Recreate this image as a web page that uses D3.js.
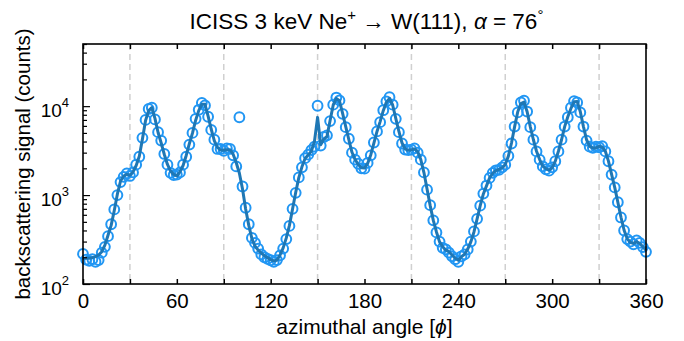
<!DOCTYPE html>
<html>
<head>
<meta charset="utf-8">
<script src="https://cdn.jsdelivr.net/npm/d3@7"></script>
<style>
  body { margin: 0; background: #fff; }
  svg { display: block; font-family: "Liberation Sans", Arial, sans-serif; }
</style>
</head>
<body>
<div id="chart"></div>
<script>
// azimuthal angles (deg) of the measured points and of the fit curve
const angles = [
  0, 2, 4, 6, 8, 10, 12, 14, 16, 18, 20, 22, 24, 26, 28, 30, 32, 34, 36, 38,
  40, 42, 44, 46, 48, 50, 52, 54, 56, 58, 60, 62, 64, 66, 68, 70, 72, 74, 76, 78,
  80, 82, 84, 86, 88, 90, 92, 94, 96, 98, 100, 102, 104, 106, 108, 110, 112, 114, 116, 118,
  120, 122, 124, 126, 128, 130, 132, 134, 136, 138, 140, 142, 144, 146, 148, 150, 152, 154, 156, 158,
  160, 162, 164, 166, 168, 170, 172, 174, 176, 178, 180, 182, 184, 186, 188, 190, 192, 194, 196, 198,
  200, 202, 204, 206, 208, 210, 212, 214, 216, 218, 220, 222, 224, 226, 228, 230, 232, 234, 236, 238,
  240, 242, 244, 246, 248, 250, 252, 254, 256, 258, 260, 262, 264, 266, 268, 270, 272, 274, 276, 278,
  280, 282, 284, 286, 288, 290, 292, 294, 296, 298, 300, 302, 304, 306, 308, 310, 312, 314, 316, 318,
  320, 322, 324, 326, 328, 330, 332, 334, 336, 338, 340, 342, 344, 346, 348, 350, 352, 354, 356, 358,
  360
];

// measured backscattering signal (counts)
const signal = [
  218, 188, 182, 190, 178, 186, 225, 262, 345, 470, 690, 1000, 1400, 1600, 1750, 1640, 1800, 2200, 2700, 4400,
  7000, 9300, 9600, 7100, 5100, 4100, 2900, 2200, 1780, 1680, 1700, 1800, 2200, 2700, 3700, 5000, 7200, 9100, 10900, 10200,
  7600, 5400, 4200, 3300, 3300, 3150, 3350, 3300, 2800, 2100, 7500, 1250, 720, 470, 330, 290, 250, 215, 200, 192,
  185, 178, 186, 210, 250, 320, 450, 700, 1060, 1580, 2050, 2600, 2850, 3200, 3500, 10100, 3600, 4500, 4700, 6800,
  10400, 12500, 11600, 8200, 5800, 4300, 3000, 2500, 2250, 2000, 1980, 2300, 2800, 3900, 5200, 6600, 9000, 11300, 12600, 10400,
  7200, 5100, 3800, 3250, 3200, 3250, 3350, 3000, 2500, 1800, 1150, 770, 520, 380, 300, 255, 245, 225, 205, 190,
  178, 205, 215, 245, 300, 390, 540, 760, 1040, 1280, 1560, 1780, 1900, 1920, 2050, 2200, 2750, 3800, 5900, 8500,
  11000, 11500, 8700, 5800, 4200, 3100, 2500, 2100, 1950, 1880, 2050, 2400, 3100, 4200, 5900, 7500, 9600, 11400, 11000, 8500,
  5900, 4100, 3500, 3400, 3500, 3450, 3550, 3100, 2400, 1700, 1220, 830, 560, 400, 320, 300, 280, 310, 290, 260,
  230
];

// smoothed curve drawn through the data
const fit = [
  195, 195, 195, 198, 203, 212, 231, 274, 353, 456, 670, 1030, 1440, 1640, 1710, 1670, 1820, 2150, 2740, 4260,
  6900, 8900, 9650, 7300, 5060, 3850, 2860, 2210, 1860, 1710, 1640, 1820, 2150, 2790, 3780, 4970, 6900, 8900, 10500, 10500,
  7740, 5500, 4080, 3440, 3210, 3190, 3240, 3240, 2880, 2310, 1760, 1170, 699, 456, 324, 267, 240, 223, 208, 198,
  188, 182, 185, 212, 255, 330, 456, 699, 1070, 1570, 2080, 2580, 2830, 3110, 4020, 7480, 3690, 4260, 4560, 6900,
  10300, 12200, 11500, 8290, 5890, 4190, 3030, 2510, 2210, 2030, 2010, 2270, 2830, 3850, 5190, 6700, 8900, 11100, 12200, 10300,
  7300, 5190, 3850, 3300, 3190, 3240, 3300, 3080, 2510, 1790, 1170, 761, 519, 385, 298, 262, 240, 231, 212, 195,
  185, 203, 216, 247, 298, 385, 541, 761, 1030, 1270, 1560, 1760, 1880, 1940, 2030, 2210, 2740, 3850, 5890, 8660,
  10700, 11100, 8660, 5890, 4190, 3110, 2510, 2120, 1980, 1910, 2030, 2410, 3110, 4190, 5890, 7610, 9420, 11200, 11300, 8660,
  5890, 4190, 3530, 3390, 3390, 3530, 3470, 3110, 2410, 1710, 1220, 830, 563, 402, 324, 293, 286, 298, 286, 262,
  240
];

const xTicks = [0, 30, 60, 90, 120, 150, 180, 210, 240, 270, 300, 330, 360];
const xLabelTicks = [0, 60, 120, 180, 240, 300, 360];
const gridAngles = [30, 90, 150, 210, 270, 330];
const yDecades = [100, 1000, 10000];
const yExponents = ["2", "3", "4"];

const width = 684, height = 341;
const margin = { top: 44, right: 38, bottom: 57, left: 83 };
const innerW = width - margin.left - margin.right;
const innerH = height - margin.top - margin.bottom;

const svg = d3.select("#chart").append("svg")
  .attr("width", width)
  .attr("height", height);

const g = svg.append("g")
  .attr("transform", `translate(${margin.left},${margin.top})`);

const x = d3.scaleLinear().domain([0, 360]).range([0, innerW]);
const y = d3.scaleLog().domain([100, 50000]).range([innerH, 0]);

// dashed guide lines
g.selectAll(".grid")
  .data(gridAngles)
  .enter()
  .append("line")
  .attr("x1", d => x(d)).attr("x2", d => x(d))
  .attr("y1", 0).attr("y2", innerH)
  .attr("stroke", "#d0d0d0")
  .attr("stroke-width", 1.5)
  .attr("stroke-dasharray", "6,4");

// measured points
const points = angles.map((a, i) => ({ a: a, v: signal[i] }));
g.selectAll(".pt")
  .data(points)
  .enter()
  .append("circle")
  .attr("cx", d => x(d.a))
  .attr("cy", d => y(d.v))
  .attr("r", 4.9)
  .attr("fill", "none")
  .attr("stroke", "#2196f3")
  .attr("stroke-width", 2);

// fit line on top
const line = d3.line()
  .x((d, i) => x(angles[i]))
  .y(d => y(d));
g.append("path")
  .datum(fit)
  .attr("d", line)
  .attr("fill", "none")
  .attr("stroke", "#1f77b4")
  .attr("stroke-width", 3)
  .attr("stroke-linejoin", "round");

// bottom axis, ticks pointing in
const xAxis = g.append("g")
  .attr("transform", `translate(0,${innerH})`)
  .call(d3.axisBottom(x)
    .tickValues(xTicks)
    .tickSize(-5)
    .tickPadding(9)
    .tickFormat(d => xLabelTicks.includes(d) ? d : ""));
xAxis.select(".domain").remove();
xAxis.selectAll("line").attr("stroke", "#000").attr("stroke-width", 1.5);
xAxis.selectAll("text").attr("font-size", 20.5).attr("fill", "#000")
  .attr("font-family", '"Liberation Sans", Arial, sans-serif');

// top axis ticks
const xTop = g.append("g")
  .call(d3.axisTop(x).tickValues(xTicks).tickSize(-5).tickFormat(""));
xTop.select(".domain").remove();
xTop.selectAll("line").attr("stroke", "#000").attr("stroke-width", 1.5);

// left axis with log minor ticks
const yTickVals = y.ticks().filter(d => d >= 100 && d <= 50000);
const yAxis = g.append("g")
  .call(d3.axisLeft(y).tickValues(yTickVals).tickSize(-4).tickFormat(""));
yAxis.select(".domain").remove();
yAxis.selectAll("line")
  .attr("stroke", "#000")
  .attr("stroke-width", 1.2)
  .attr("x2", d => yDecades.includes(d) ? 7 : 4);

// decade labels 10^n
const yLab = g.selectAll(".ylab")
  .data(yDecades)
  .enter()
  .append("text")
  .attr("x", -14)
  .attr("y", d => y(d) + 11)
  .attr("text-anchor", "end")
  .attr("fill", "#000");
yLab.append("tspan").attr("font-size", 19).text("10");
yLab.append("tspan").attr("font-size", 13).attr("dy", -10)
  .text((d, i) => yExponents[i]);

// frame
g.append("rect")
  .attr("width", innerW)
  .attr("height", innerH)
  .attr("fill", "none")
  .attr("stroke", "#000")
  .attr("stroke-width", 1.6);

// title
const title = svg.append("text")
  .attr("x", margin.left + innerW / 2 + 2)
  .attr("y", 29)
  .attr("text-anchor", "middle")
  .attr("font-size", 22.5)
  .attr("fill", "#000");
title.append("tspan").text("ICISS 3 keV Ne");
title.append("tspan").attr("font-size", 15).attr("dy", -9).text("+");
title.append("tspan").attr("dy", 9).text(" \u2192  W(111), ");
title.append("tspan").attr("font-style", "italic").text("\u03b1");
title.append("tspan").text(" = 76");
title.append("tspan").attr("font-size", 15).attr("dy", -9).text("\u00b0");

// axis labels
const xl = svg.append("text")
  .attr("x", margin.left + innerW / 2)
  .attr("y", 334)
  .attr("text-anchor", "middle")
  .attr("font-size", 21)
  .attr("fill", "#000");
xl.append("tspan").text("azimuthal angle [");
xl.append("tspan").attr("font-style", "italic").text("\u03d5");
xl.append("tspan").text("]");

svg.append("text")
  .attr("transform", `translate(30,${margin.top + innerH / 2}) rotate(-90)`)
  .attr("text-anchor", "middle")
  .attr("font-size", 20.5)
  .attr("fill", "#000")
  .text("backscattering signal (counts)");
</script>
</body>
</html>
